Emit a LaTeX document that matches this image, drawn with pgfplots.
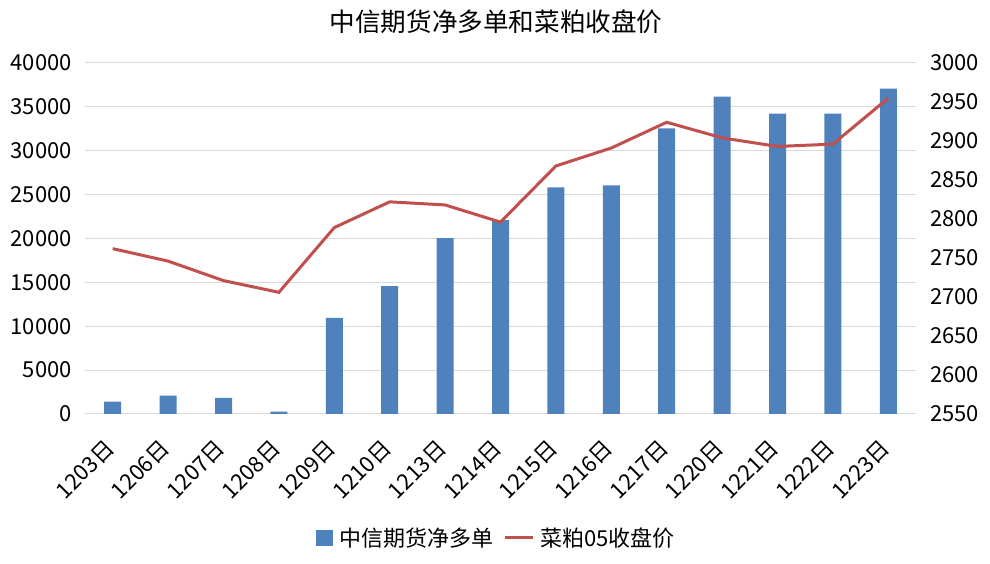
\documentclass[border=0pt]{standalone}
\usepackage{pgfplots}
\pgfplotsset{compat=1.18}
\usepackage{fontspec}
\setmainfont{Noto Sans CJK SC}
\definecolor{barblue}{HTML}{4F81BD}
\definecolor{linered}{HTML}{C0504D}
\definecolor{gridgray}{HTML}{D9D9D9}
\begin{document}
\begin{tikzpicture}[x=1pt,y=1pt]
\useasboundingbox (0,0) rectangle (990,564);
\node[font=\fontsize{25.6}{30}\selectfont] at (496,542) {中信期货净多单和菜粕收盘价};
\begin{axis}[
  at={(85pt,150pt)}, anchor=south west,
  scale only axis, width=831pt, height=351pt,
  xmin=-0.5, xmax=14.5, ymin=0, ymax=40000,
  xtick={0,...,14},
  xticklabels={1203日,1206日,1207日,1208日,1209日,1210日,1213日,1214日,1215日,1216日,1217日,1220日,1221日,1222日,1223日},
  ytick={0,5000,...,40000},
  axis y line*=left, axis x line*=bottom,
  y axis line style={draw=none},
  x axis line style={draw=gridgray, line width=1pt},
  ymajorgrids, grid style={gridgray, line width=1pt},
  major tick length=0pt,
  tick label style={font=\fontsize{22}{26}\selectfont},
  xticklabel style={yshift=-29pt, xshift=-1pt, rotate=45, anchor=east, inner sep=2pt},
  yticklabel style={/pgf/number format/1000 sep={}, /pgf/number format/assume math mode=true, inner sep=0pt, xshift=-13pt},
  scaled y ticks=false,
  legend style={at={(0.495,-0.353)}, anchor=center, draw=none, legend columns=2,
    font=\fontsize{22}{26}\selectfont, /tikz/every even column/.append style={column sep=8pt}},
]
\addplot[ybar, bar width=17pt, fill=barblue, draw=none,
  legend image code/.code={\fill[barblue] (0pt,-8pt) rectangle (17pt,8pt); \path (22pt,0pt);}]
  coordinates {(0,1400) (1,2080) (2,1850) (3,270) (4,10950) (5,14580) (6,20040) (7,22080) (8,25830) (9,26060) (10,32540) (11,36170) (12,34240) (13,34240) (14,37080)};
\addlegendentry{中信期货净多单}
\addlegendimage{legend image code/.code={\draw[linered, line width=3pt] (0pt,0pt) -- (28pt,0pt); \path (33pt,0pt);}}
\addlegendentry{菜粕05收盘价}
\end{axis}
\begin{axis}[
  at={(85pt,150pt)}, anchor=south west,
  scale only axis, width=831pt, height=351pt,
  xmin=-0.5, xmax=14.5, ymin=2550, ymax=3000,
  ytick={2550,2600,...,3000},
  axis y line*=right, axis x line=none,
  y axis line style={draw=none},
  major tick length=0pt,
  tick label style={font=\fontsize{22}{26}\selectfont},
  yticklabel style={/pgf/number format/1000 sep={}, /pgf/number format/assume math mode=true, inner sep=0pt, xshift=14pt},
  scaled y ticks=false,
]
\addplot[linered, line width=3pt, mark=none]
  coordinates {(0,2762) (1,2746) (2,2721) (3,2706) (4,2789) (5,2822) (6,2818) (7,2796) (8,2868) (9,2891) (10,2924) (11,2904) (12,2893) (13,2896) (14,2955)};
\end{axis}
\end{tikzpicture}
\end{document}
